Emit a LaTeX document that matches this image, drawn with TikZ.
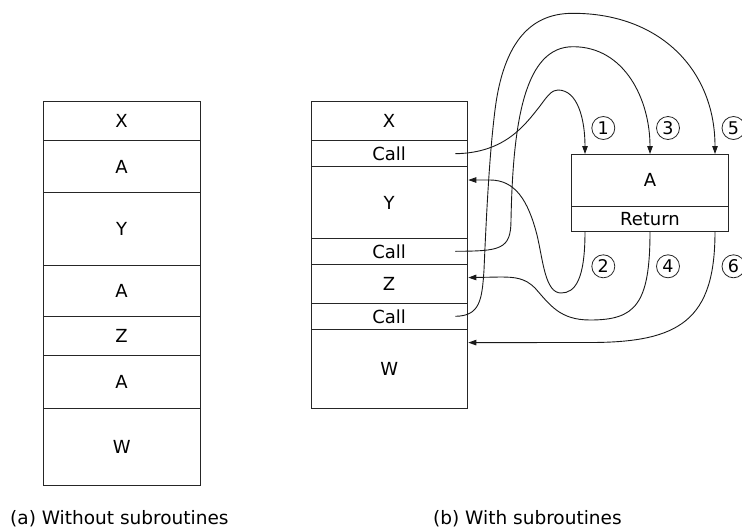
\documentclass[tikz,border=0pt]{standalone}
\usepackage{fontspec}
\setmainfont{DejaVu Sans}
\usetikzlibrary{arrows.meta,calc}
\begin{document}
\begin{tikzpicture}[x=1pt,y=-1pt,
  cell/.style={draw=black!85, line width=0.9pt, inner sep=0pt, outer sep=0pt,
    font=\fontsize{18}{21}\selectfont},
  lcell/.style={cell, minimum width=156.7pt},
  mcell/.style={cell, minimum width=156.3pt},
  acell/.style={cell, minimum width=156.6pt},
  num/.style={draw=black!85, line width=0.8pt, circle, minimum size=23pt, inner sep=0pt,
    font=\fontsize{17.5}{20}\selectfont},
  flow/.style={draw=black!90, line width=0.9pt, -{Triangle[length=8pt,width=5.5pt]}},
  captext/.style={anchor=base west, inner sep=0pt, font=\fontsize{18.5}{22}\selectfont}
]
\useasboundingbox (0,0) rectangle (742,528);
% (a) column
\node[lcell, minimum height=39pt]   (lX)  at (121.65,121.2)  {X};
\node[lcell, minimum height=52pt]   (lA1) at (121.65,166.7)  {A};
\node[lcell, minimum height=72.3pt] (lY)  at (121.65,228.85) {Y};
\node[lcell, minimum height=51.7pt] (lA2) at (121.65,290.85) {A};
\node[lcell, minimum height=39pt]   (lZ)  at (121.65,336.2)  {Z};
\node[lcell, minimum height=52.6pt] (lA3) at (121.65,382)    {A};
\node[lcell, minimum height=76.7pt] (lW)  at (121.65,446.65) {W};
% (b) column
\node[mcell, minimum height=39pt]   (mX)  at (389.15,121.2) {X};
\node[mcell, minimum height=26pt]   (mC1) at (389.15,153.7) {Call};
\node[mcell, minimum height=71.6pt] (mY)  at (389.15,202.5) {Y};
\node[mcell, minimum height=26pt]   (mC2) at (389.15,251.3) {Call};
\node[mcell, minimum height=39pt]   (mZ)  at (389.15,283.8) {Z};
\node[mcell, minimum height=26pt]   (mC3) at (389.15,316.3) {Call};
\node[mcell, minimum height=79pt]   (mW)  at (389.15,368.8) {W};
% subroutine A
\node[acell, minimum height=52pt]   (aA)  at (650,180)    {A};
\node[acell, minimum height=25.7pt] (aR)  at (650,218.85) {Return};
% numbers
\node[num] (n1) at (603.3,128) {1};
\node[num] (n3) at (668,128)   {3};
\node[num] (n5) at (733.5,128) {5};
\node[num] (n2) at (603.3,266.3) {2};
\node[num] (n4) at (668,266.3)   {4};
\node[num] (n6) at (733.5,266.3) {6};
% connector ends
\coordinate (s1) at ($(mC1.east)+(-12,0)$);
\coordinate (s2) at ($(mC2.east)+(-12,0)$);
\coordinate (s3) at ($(mC3.east)+(-12,0)$);
\coordinate (t1) at ($(aA.north west)+(13.3,0)$);
\coordinate (t3) at (aA.north);
\coordinate (t5) at ($(aA.north east)+(-13.3,0)$);
\coordinate (r2) at ($(aR.south west)+(13.3,0)$);
\coordinate (r4) at (aR.south);
\coordinate (r6) at ($(aR.south east)+(-13.3,0)$);
\coordinate (b2) at ($(mY.north east)+(1,13.3)$);
\coordinate (b4) at ($(mZ.north east)+(1,13.3)$);
\coordinate (b6) at ($(mW.north east)+(1,13.3)$);
% calls
\draw[flow] (s1) .. controls (505,153) and (525,125) .. (540,106)
  .. controls (548,95) and (552,90) .. (558,90)
  .. controls (578,90) and (585,120) .. (t1);
\draw[flow] (s2) .. controls (500,251) and (511,250) .. (511,220)
  .. controls (513,120) and (525,46.7) .. (573,46.7)
  .. controls (625,46.7) and (650,100) .. (t3);
\draw[flow] (s3) .. controls (480,316) and (482,300) .. (484,270)
  .. controls (487,200) and (490,150) .. (495,110)
  .. controls (505,30) and (540,13.3) .. (573,13.3)
  .. controls (660,13.3) and (715,70) .. (t5);
% returns
\draw[flow] (r2) .. controls (585,280) and (575,293) .. (561,293)
  .. controls (545,293) and (543,260) .. (537,235)
  .. controls (528,200) and (515,180) .. (490,180) -- (b2);
\draw[flow] (r4) .. controls (650,305) and (635,320) .. (590,320)
  .. controls (560,320) and (550,305) .. (535,288)
  .. controls (525,278) and (515,277) .. (500,277) -- (b4);
\draw[flow] (r6) .. controls (715,320) and (680,342.5) .. (590,342.5) -- (b6);
% captions
\node[captext] (capa) at (10,524.3)  {(a) Without subroutines};
\node[captext] (capb) at (433,524.3) {(b) With subroutines};
\end{tikzpicture}
\end{document}
